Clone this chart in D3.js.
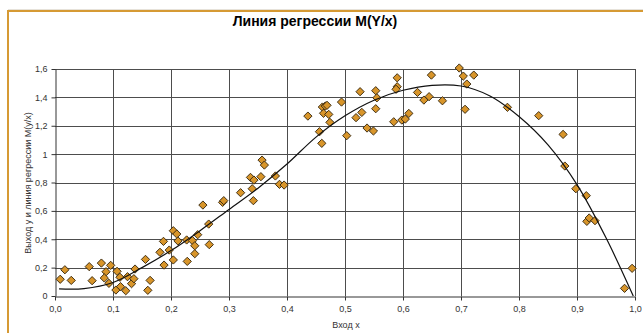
<!DOCTYPE html>
<html>
<head>
<meta charset="utf-8">
<script src="https://cdn.jsdelivr.net/npm/d3@7"></script>
<style>
  html, body { margin: 0; padding: 0; background: #ffffff; }
  svg { display: block; font-family: "Liberation Sans", Arial, sans-serif; }
</style>
</head>
<body>
<svg id="chart" width="643" height="333"></svg>
<script>
// Observed sample: input x and output y
const sampleX = [0.009, 0.017, 0.028, 0.059, 0.064, 0.080, 0.088, 0.096, 0.085, 0.093,
  0.107, 0.105, 0.112, 0.113, 0.122, 0.125, 0.132, 0.136, 0.138, 0.156,
  0.164, 0.160, 0.187, 0.181, 0.188, 0.197, 0.204, 0.210, 0.212, 0.204,
  0.227, 0.228, 0.237, 0.241, 0.241, 0.246, 0.255, 0.265, 0.266, 0.289,
  0.291, 0.320, 0.342, 0.340, 0.337, 0.343, 0.355, 0.357, 0.361, 0.380,
  0.387, 0.395, 0.436, 0.456, 0.460, 0.461, 0.466, 0.469, 0.463, 0.472,
  0.474, 0.494, 0.503, 0.519, 0.526, 0.529, 0.538, 0.549, 0.553, 0.555,
  0.553, 0.584, 0.590, 0.590, 0.588, 0.598, 0.604, 0.610, 0.625, 0.636,
  0.645, 0.649, 0.668, 0.697, 0.704, 0.722, 0.710, 0.707, 0.780, 0.834,
  0.876, 0.879, 0.898, 0.916, 0.917, 0.921, 0.931, 0.982, 0.995];
const sampleY = [0.118, 0.185, 0.110, 0.207, 0.108, 0.232, 0.171, 0.216, 0.127, 0.089,
  0.174, 0.042, 0.132, 0.066, 0.037, 0.136, 0.087, 0.122, 0.190, 0.258,
  0.110, 0.040, 0.385, 0.308, 0.218, 0.324, 0.460, 0.437, 0.388, 0.254,
  0.395, 0.244, 0.390, 0.354, 0.298, 0.432, 0.641, 0.507, 0.362, 0.660,
  0.672, 0.728, 0.672, 0.756, 0.836, 0.817, 0.841, 0.958, 0.923, 0.846,
  0.787, 0.782, 1.268, 1.158, 1.076, 1.332, 1.339, 1.344, 1.288, 1.280,
  1.224, 1.367, 1.130, 1.257, 1.440, 1.294, 1.184, 1.163, 1.447, 1.397,
  1.320, 1.228, 1.538, 1.475, 1.457, 1.240, 1.247, 1.287, 1.435, 1.381,
  1.405, 1.557, 1.376, 1.607, 1.550, 1.557, 1.494, 1.316, 1.330, 1.271,
  1.139, 0.916, 0.756, 0.707, 0.526, 0.550, 0.531, 0.054, 0.195];

// Regression line M(y/x)
const regX = [0.007, 0.05, 0.10, 0.15, 0.20, 0.25, 0.30, 0.35, 0.40, 0.45, 0.50,
  0.55, 0.60, 0.65, 0.70, 0.75, 0.80, 0.85, 0.90, 0.95, 0.997];
const regY = [0.050, 0.052, 0.095, 0.200, 0.320, 0.460, 0.610, 0.760, 0.930, 1.120, 1.270,
  1.380, 1.450, 1.485, 1.480, 1.410, 1.265, 1.065, 0.785, 0.410, 0.000];

const xTicks = [0, 0.1, 0.2, 0.3, 0.4, 0.5, 0.6, 0.7, 0.8, 0.9, 1.0];
const xTickLabels = ["0,0", "0,1", "0,2", "0,3", "0,4", "0,5", "0,6", "0,7", "0,8", "0,9", "1,0"];
const yTicks = [0, 0.2, 0.4, 0.6, 0.8, 1, 1.2, 1.4, 1.6];
const yTickLabels = ["0", "0,2", "0,4", "0,6", "0,8", "1", "1,2", "1,4", "1,6"];

const titleText = "Линия регрессии M(Y/x)";
const xTitle = "Вход x";
const yTitle = "Выход y и линия регрессии M(y/x)";

const svg = d3.select("#chart");
const plot = { left: 55, right: 635, top: 69, bottom: 296 };

const x = d3.scaleLinear().domain([0, 1]).range([plot.left, plot.right]);
const y = d3.scaleLinear().domain([0, 1.6]).range([plot.bottom, plot.top]);

// Outer frame accent (top and left edges)
svg.append("line").attr("x1", 8).attr("x2", 643).attr("y1", 10.5).attr("y2", 10.5)
  .attr("stroke", "#e6e2da").attr("stroke-width", 3);
svg.append("line").attr("x1", 7).attr("x2", 643).attr("y1", 11).attr("y2", 11)
  .attr("stroke", "#d69a34").attr("stroke-width", 2);
svg.append("line").attr("x1", 8).attr("x2", 8).attr("y1", 10).attr("y2", 333)
  .attr("stroke", "#d69a34").attr("stroke-width", 2);

// Title
svg.append("text")
  .attr("x", 315).attr("y", 26)
  .attr("text-anchor", "middle")
  .attr("font-size", 14).attr("font-weight", "bold")
  .attr("fill", "#000")
  .text(titleText);

// Grid
const grid = svg.append("g").attr("stroke", "#4d4d4d").attr("stroke-width", 1).attr("shape-rendering", "crispEdges");
grid.selectAll("line.v").data(xTicks.slice(1)).join("line")
  .attr("x1", d => Math.round(x(d)) + 0.5).attr("x2", d => Math.round(x(d)) + 0.5)
  .attr("y1", plot.top).attr("y2", plot.bottom);
grid.selectAll("line.h").data(yTicks.slice(1)).join("line")
  .attr("x1", plot.left).attr("x2", plot.right)
  .attr("y1", d => Math.round(y(d)) + 0.5).attr("y2", d => Math.round(y(d)) + 0.5);

// Axes
const xAxis = d3.axisBottom(x).tickValues(xTicks)
  .tickFormat((d, i) => xTickLabels[i]).tickSize(4).tickSizeOuter(0).tickPadding(5);
const yAxis = d3.axisLeft(y).tickValues(yTicks)
  .tickFormat((d, i) => yTickLabels[i]).tickSize(4).tickSizeOuter(0).tickPadding(4);

const gx = svg.append("g").attr("transform", `translate(0,${plot.bottom + 0.5})`).call(xAxis);
const gy = svg.append("g").attr("transform", `translate(${plot.left + 0.5},0)`).call(yAxis);
[gx, gy].forEach(g => {
  g.select(".domain").attr("stroke", "#333");
  g.selectAll(".tick line").attr("stroke", "#333");
  g.selectAll(".tick text").attr("fill", "#333").attr("font-size", 9)
    .attr("font-family", "'Liberation Sans', Arial, sans-serif");
});

// Axis titles
svg.append("text")
  .attr("x", 346).attr("y", 328)
  .attr("text-anchor", "middle").attr("font-size", 9).attr("fill", "#333")
  .text(xTitle);
svg.append("text")
  .attr("transform", `translate(31,183) rotate(-90)`)
  .attr("text-anchor", "middle").attr("font-size", 9).attr("fill", "#333")
  .text(yTitle);

// Sample points as diamonds
const points = sampleX.map((v, i) => ({ x: v, y: sampleY[i] }));
const diamond = d3.symbol().type(d3.symbolSquare).size(34);
svg.append("g").selectAll("path").data(points).join("path")
  .attr("d", diamond)
  .attr("transform", d => `translate(${x(d.x)},${y(d.y)}) rotate(45)`)
  .attr("fill", "#d8952a")
  .attr("stroke", "#3a2a10")
  .attr("stroke-width", 0.9);

// Regression curve
const reg = regX.map((v, i) => [v, regY[i]]);
svg.append("path")
  .datum(reg)
  .attr("fill", "none")
  .attr("stroke", "#111")
  .attr("stroke-width", 1.2)
  .attr("d", d3.line().x(d => x(d[0])).y(d => y(d[1])).curve(d3.curveCatmullRom.alpha(0.5)));
</script>
</body>
</html>
